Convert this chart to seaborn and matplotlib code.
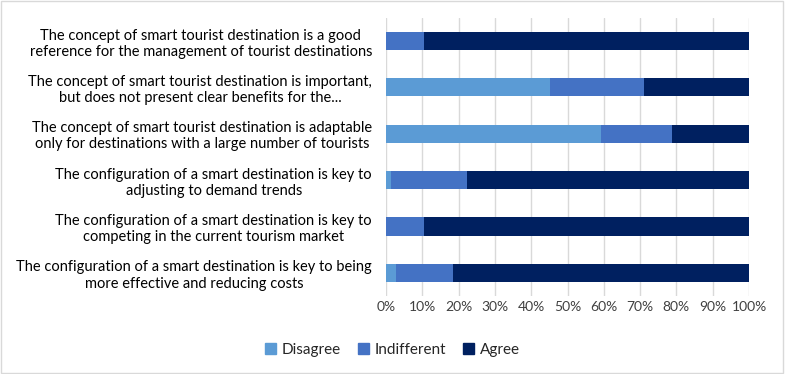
import matplotlib
matplotlib.use('Agg')
import matplotlib.pyplot as plt
import seaborn as sns
import pandas as pd
from matplotlib.patches import Patch

# 응답 항목
labels = [
    'The concept of smart tourist destination is a good\nreference for the management of tourist destinations',
    'The concept of smart tourist destination is important,\nbut does not present clear benefits for the...',
    'The concept of smart tourist destination is adaptable\nonly for destinations with a large number of tourists',
    'The configuration of a smart destination is key to\nadjusting to demand trends',
    'The configuration of a smart destination is key to\ncompeting in the current tourism market',
    'The configuration of a smart destination is key to being\nmore effective and reducing costs',
]
disagree = [0.0, 45.1, 59.2, 1.4, 0.0, 2.8]
indifferent = [10.4, 26.1, 19.7, 20.9, 10.4, 15.6]
agree = [89.6, 28.8, 21.1, 77.7, 89.6, 81.6]

colors = {'Disagree': '#5B9BD5', 'Indifferent': '#4472C4', 'Agree': '#002060'}

df = pd.DataFrame({'항목': labels, 'Disagree': disagree,
                   'Indifferent': indifferent, 'Agree': agree})
# 누적값 (뒤에서부터 겹쳐 그리기)
df['c3'] = df['Disagree'] + df['Indifferent'] + df['Agree']
df['c2'] = df['Disagree'] + df['Indifferent']
df['c1'] = df['Disagree']

sns.set_style('white')
plt.rcParams['font.family'] = ['Lato', 'DejaVu Sans']

fig = plt.figure(figsize=(7.85, 3.74), dpi=100)
ax = fig.add_axes([0.4917, 0.2086, 0.4625, 0.7434])

sns.barplot(data=df, x='c3', y='항목', color=colors['Agree'], width=0.39,
            saturation=1, linewidth=0, ax=ax, zorder=2)
sns.barplot(data=df, x='c2', y='항목', color=colors['Indifferent'], width=0.39,
            saturation=1, linewidth=0, ax=ax, zorder=3)
sns.barplot(data=df, x='c1', y='항목', color=colors['Disagree'], width=0.39,
            saturation=1, linewidth=0, ax=ax, zorder=4)

ax.set_xlim(0, 100)
ax.set_xticks(range(0, 101, 10))
ax.set_xticklabels([f'{v}%' for v in range(0, 101, 10)], fontsize=10, color='#404040')
ax.tick_params(axis='both', length=0)
ax.tick_params(axis='y', pad=10)
for t in ax.get_yticklabels():
    t.set_multialignment('center')
    t.set_fontsize(10.5)
    t.set_color('black')
ax.set_xlabel('')
ax.set_ylabel('')
ax.grid(axis='x', color='#D9D9D9', linewidth=1, zorder=0)
ax.set_axisbelow(True)
for s in ax.spines.values():
    s.set_visible(False)

handles = [Patch(color=colors[k], label=k) for k in ['Disagree', 'Indifferent', 'Agree']]
fig.legend(handles=handles, loc='center', bbox_to_anchor=(0.5, 0.065), ncol=3,
           frameon=False, fontsize=11, handlelength=0.7, handleheight=0.7,
           handletextpad=0.4, columnspacing=1.1)

fig.patches.append(plt.Rectangle((0.001, 0.002), 0.997, 0.995, transform=fig.transFigure,
                                 fill=False, edgecolor='#D9D9D9', linewidth=1))

fig.savefig('out.png', dpi=100)
